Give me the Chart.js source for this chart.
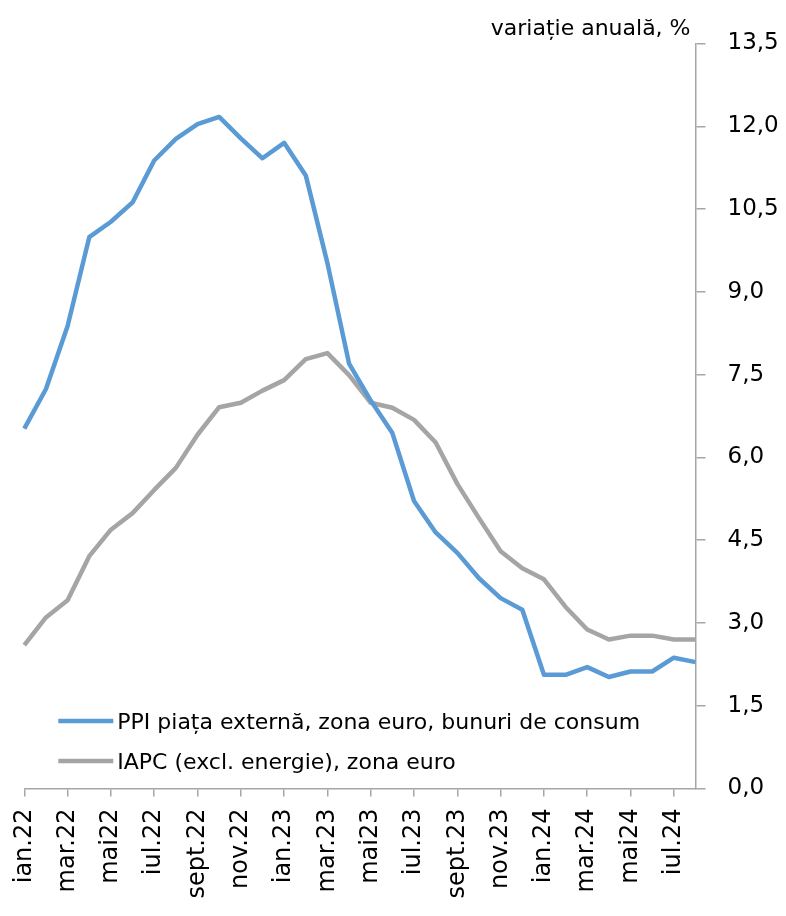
<!DOCTYPE html>
<html>
<head>
<meta charset="utf-8">
<script src="https://cdn.jsdelivr.net/npm/chart.js@4"></script>
<style>
  html, body { margin: 0; padding: 0; background: #fff; }
  #wrap { width: 786px; height: 916px; }
</style>
</head>
<body>
<div id="wrap"><canvas id="ppiChart" width="786" height="916"></canvas></div>
<script>
// lunile, ian.22 - aug.24
const months = [
    'ian.22','feb.22','mar.22','apr.22','mai22','iun.22','iul.22','aug.22','sept.22','oct.22','nov.22','dec.22',
    'ian.23','feb.23','mar.23','apr.23','mai23','iun.23','iul.23','aug.23','sept.23','oct.23','nov.23','dec.23',
    'ian.24','feb.24','mar.24','apr.24','mai24','iun.24','iul.24','aug.24'
];

// PPI piata externa, zona euro, bunuri de consum
const ppiValues = [
    6.52, 7.24, 8.38, 9.99, 10.27, 10.62, 11.38, 11.77, 12.04, 12.17, 11.78, 11.42,
    11.70, 11.11, 9.52, 7.70, 7.03, 6.44, 5.21, 4.64, 4.27, 3.81, 3.45, 3.24,
    2.06, 2.06, 2.20, 2.02, 2.12, 2.12, 2.37, 2.29
];

// IAPC (excl. energie), zona euro
const iapcValues = [
    2.60, 3.10, 3.41, 4.21, 4.69, 4.99, 5.41, 5.81, 6.41, 6.91, 6.99, 7.21,
    7.40, 7.78, 7.89, 7.49, 6.99, 6.90, 6.68, 6.27, 5.52, 4.90, 4.30, 3.99,
    3.79, 3.29, 2.88, 2.70, 2.77, 2.77, 2.70, 2.70
];

const seriesNames = ['PPI piața externă, zona euro, bunuri de consum', 'IAPC (excl. energie), zona euro'];
const yTitle = 'variație anuală, %';

const FONT = 'DejaVu Sans';
const axisGray = '#a6a6a6';

// legenda si titlul axei, desenate pe canvas
const extrasPlugin = {
    id: 'extras',
    afterDatasetsDraw(chart) {
        const { ctx, chartArea } = chart;
        ctx.save();
        ctx.font = '22px "' + FONT + '"';
        ctx.fillStyle = '#000';
        ctx.textBaseline = 'alphabetic';

        // titlu axa y
        ctx.textAlign = 'right';
        ctx.fillText(yTitle, chartArea.right - 5, 35);

        // legenda
        ctx.textAlign = 'left';
        chart.data.datasets.forEach(function (ds, i) {
            const y = 721 + i * 40;
            ctx.strokeStyle = ds.borderColor;
            ctx.lineWidth = 4.5;
            ctx.lineCap = 'butt';
            ctx.beginPath();
            ctx.moveTo(chartArea.left + 34, y);
            ctx.lineTo(chartArea.left + 89, y);
            ctx.stroke();
            ctx.fillText(ds.label, chartArea.left + 93, y + 8);
        });
        ctx.restore();
    }
};

document.addEventListener("DOMContentLoaded", function () {
    const ctx = document.getElementById("ppiChart");

    new Chart(ctx, {
        type: 'line',
        data: {
            labels: months,
            datasets: [{
                label: seriesNames[0],
                data: ppiValues,
                borderColor: '#5b9bd5',
                borderWidth: 4.5,
                pointRadius: 0,
                fill: false,
                tension: 0,
                borderJoinStyle: 'round'
            }, {
                label: seriesNames[1],
                data: iapcValues,
                borderColor: '#a5a5a5',
                borderWidth: 4.5,
                pointRadius: 0,
                fill: false,
                tension: 0,
                borderJoinStyle: 'round'
            }]
        },
        options: {
            responsive: false,
            animation: false,
            devicePixelRatio: 1,
            layout: {
                padding: { top: 43.5, left: 24.3, right: 0, bottom: 0 }
            },
            plugins: {
                legend: { display: false },
                tooltip: { enabled: false }
            },
            scales: {
                x: {
                    offset: false,
                    border: { color: axisGray, width: 1.5 },
                    grid: {
                        drawOnChartArea: false,
                        tickLength: 8,
                        lineWidth: 1.5,
                        color: function (c) { return c.index % 2 === 0 ? axisGray : 'rgba(0,0,0,0)'; }
                    },
                    ticks: {
                        autoSkip: false,
                        maxRotation: 90,
                        minRotation: 90,
                        padding: 12,
                        color: '#000',
                        font: { family: FONT, size: 24 },
                        callback: function (val, i) { return i % 2 === 0 ? months[i] : ''; }
                    },
                    afterFit: function (scale) { scale.height = 127.5; }
                },
                y: {
                    position: 'right',
                    min: 0,
                    max: 13.5,
                    border: { color: axisGray, width: 1.5 },
                    grid: {
                        drawOnChartArea: false,
                        tickLength: 10,
                        lineWidth: 1.5,
                        color: axisGray
                    },
                    ticks: {
                        stepSize: 1.5,
                        padding: 22,
                        color: '#000',
                        font: { family: FONT, size: 23 },
                        callback: function (v) { return v.toFixed(1).replace('.', ','); }
                    },
                    afterFit: function (scale) { scale.width = 90.5; }
                }
            }
        },
        plugins: [extrasPlugin]
    });
});
</script>
</body>
</html>
